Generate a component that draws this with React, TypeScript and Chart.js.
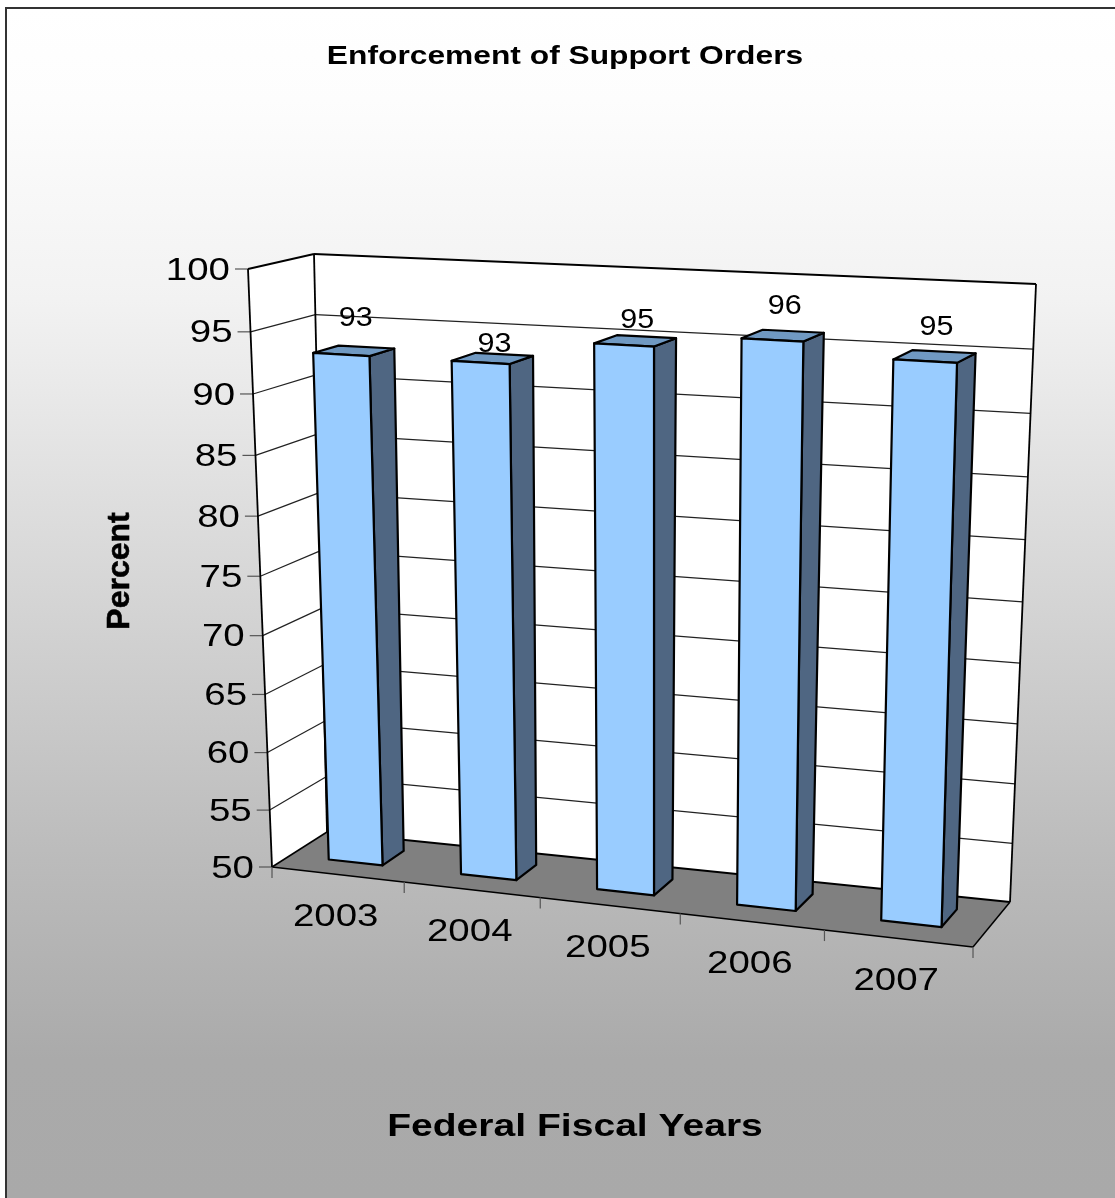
import React, { useEffect, useRef } from "react";
import { Chart, registerables } from "chart.js";

Chart.register(...registerables);

const fiscalYears = ["2003", "2004", "2005", "2006", "2007"];
const percentEnforced = [93, 93, 95, 96, 95];
const axisMin = 50;
const axisMax = 100;
const axisStep = 5;

const chartTitle = "Enforcement of Support Orders";
const xAxisTitle = "Federal Fiscal Years";
const yAxisTitle = "Percent";

// Corners of the projected box, ordered: lower-left, lower-right, upper-right, upper-left.
type Pt = [number, number];
const frontPlane: Pt[] = [[272, 867], [973, 947], [990, 306], [248, 269]];
const backPlane: Pt[] = [[327, 832], [1010, 902], [1036, 284], [314, 254]];

// Extent of the bars along the depth of the floor (0 = front edge, 1 = back wall).
const barDepthNear = 0.335;
const barDepthFar = 0.735;

// Extra lift of each value label above its bar.
const labelLift = [32, 14, 20, 29, 29];

const FONT = '"Liberation Sans", Arial, sans-serif';

// Unit-square to quadrilateral perspective map.
function squareToQuad(q: Pt[]) {
  const [[x0, y0], [x1, y1], [x2, y2], [x3, y3]] = q;
  const dx1 = x1 - x2, dx2 = x3 - x2, sx = x0 - x1 + x2 - x3;
  const dy1 = y1 - y2, dy2 = y3 - y2, sy = y0 - y1 + y2 - y3;
  const den = dx1 * dy2 - dx2 * dy1;
  const g = (sx * dy2 - dx2 * sy) / den;
  const h = (dx1 * sy - sx * dy1) / den;
  const a = x1 - x0 + g * x1, b = x3 - x0 + h * x3, c = x0;
  const d = y1 - y0 + g * y1, e = y3 - y0 + h * y3, f = y0;
  return (u: number, v: number): Pt => {
    const s = g * u + h * v + 1;
    return [(a * u + b * v + c) / s, (d * u + e * v + f) / s];
  };
}

const mapFront = squareToQuad(frontPlane);
const mapBack = squareToQuad(backPlane);

function project(u: number, v: number, w: number): Pt {
  const p = mapFront(u, v);
  const q = mapBack(u, v);
  return [p[0] + (q[0] - p[0]) * w, p[1] + (q[1] - p[1]) * w];
}

function polygon(ctx: CanvasRenderingContext2D, pts: Pt[], fill?: string, stroke?: string, lw = 2.2) {
  ctx.beginPath();
  pts.forEach((p, i) => (i ? ctx.lineTo(p[0], p[1]) : ctx.moveTo(p[0], p[1])));
  ctx.closePath();
  if (fill) {
    ctx.fillStyle = fill;
    ctx.fill();
  }
  if (stroke) {
    ctx.strokeStyle = stroke;
    ctx.lineWidth = lw;
    ctx.lineJoin = "round";
    ctx.stroke();
  }
}

function segment(ctx: CanvasRenderingContext2D, a: Pt, b: Pt, color: string, lw: number) {
  ctx.beginPath();
  ctx.moveTo(a[0], a[1]);
  ctx.lineTo(b[0], b[1]);
  ctx.strokeStyle = color;
  ctx.lineWidth = lw;
  ctx.stroke();
}

// Text widened along x about its anchor.
function wideText(
  ctx: CanvasRenderingContext2D,
  text: string,
  x: number,
  y: number,
  font: string,
  stretch: number,
  align: CanvasTextAlign = "center",
) {
  ctx.save();
  ctx.translate(x, y);
  ctx.scale(stretch, 1);
  ctx.font = font;
  ctx.textAlign = align;
  ctx.textBaseline = "middle";
  ctx.fillStyle = "#000000";
  ctx.fillText(text, 0, 0);
  ctx.restore();
}

// Flat scale pixels to normalised box coordinates.
function normaliser(chart: any) {
  const area = chart.chartArea;
  return {
    nx: (px: number) => (px - area.left) / area.width,
    ny: (py: number) => (area.bottom - py) / area.height,
  };
}

const scene3d = {
  id: "scene3d",
  beforeDraw(chart: any) {
    const { ctx, width, height } = chart;
    ctx.save();
    ctx.fillStyle = "#ffffff";
    ctx.fillRect(0, 0, width, height);
    const grad = ctx.createLinearGradient(0, 8, 0, height);
    const stop = (y: number) => (y - 8) / (height - 8);
    grad.addColorStop(0, "#ffffff");
    grad.addColorStop(stop(100), "#fdfdfd");
    grad.addColorStop(stop(300), "#f2f2f2");
    grad.addColorStop(stop(860), "#bbbbbb");
    grad.addColorStop(stop(1060), "#aaaaaa");
    grad.addColorStop(1, "#a9a9a9");
    ctx.fillStyle = grad;
    ctx.fillRect(6, 8, width, height);
    ctx.strokeStyle = "#333333";
    ctx.lineWidth = 2;
    ctx.beginPath();
    ctx.moveTo(6, height);
    ctx.lineTo(6, 8);
    ctx.lineTo(width, 8);
    ctx.stroke();
    wideText(ctx, chartTitle, 565, 57, `bold 25px ${FONT}`, 1.27);
    ctx.restore();
  },
  beforeDatasetsDraw(chart: any) {
    const { ctx, scales } = chart;
    const { nx, ny } = normaliser(chart);
    const xs = scales.x;
    const ys = scales.y;
    ctx.save();

    // Side wall, back wall and floor.
    polygon(ctx, [project(0, 0, 0), project(0, 0, 1), project(0, 1, 1), project(0, 1, 0)], "#ffffff");
    polygon(ctx, [project(0, 0, 1), project(1, 0, 1), project(1, 1, 1), project(0, 1, 1)], "#ffffff");
    polygon(ctx, [project(0, 0, 0), project(1, 0, 0), project(1, 0, 1), project(0, 0, 1)], "#808080");

    // Horizontal gridlines and value ticks.
    for (const tick of ys.ticks) {
      const v = ny(ys.getPixelForValue(tick.value));
      const a = project(0, v, 0);
      const b = project(0, v, 1);
      const c = project(1, v, 1);
      if (tick.value !== axisMin && tick.value !== axisMax) {
        segment(ctx, a, b, "#222222", 1.2);
        segment(ctx, b, c, "#222222", 1.2);
      }
      segment(ctx, [a[0] - 13, a[1]], a, "#555555", 1.2);
      wideText(ctx, String(tick.value), a[0] - 18, a[1] + 2, `31px ${FONT}`, 1.24, "right");
    }

    // Box outline.
    const edge = "#000000";
    segment(ctx, project(0, 1, 0), project(0, 0, 0), edge, 1.8);
    segment(ctx, project(0, 1, 0), project(0, 1, 1), edge, 1.8);
    segment(ctx, project(0, 1, 1), project(1, 1, 1), edge, 1.8);
    segment(ctx, project(0, 1, 1), project(0, 0, 1), edge, 1.8);
    segment(ctx, project(1, 1, 1), project(1, 0, 1), edge, 1.8);
    segment(ctx, project(0, 0, 1), project(1, 0, 1), edge, 1.8);
    segment(ctx, project(0, 0, 0), project(0, 0, 1), edge, 1.5);
    segment(ctx, project(1, 0, 0), project(1, 0, 1), edge, 1.5);
    segment(ctx, project(0, 0, 0), project(1, 0, 0), edge, 1.5);

    // Category ticks and year labels along the front edge of the floor.
    fiscalYears.forEach((year, i) => {
      const centre = project(nx(xs.getPixelForValue(i)), 0, 0);
      wideText(ctx, year, centre[0] - 2, centre[1] + 43, `31px ${FONT}`, 1.24);
    });
    for (let i = 0; i <= fiscalYears.length; i++) {
      const p = project(nx(xs.getPixelForValue(i - 0.5)), 0, 0);
      segment(ctx, p, [p[0], p[1] + 11], "#555555", 1.2);
    }

    // Axis titles.
    wideText(ctx, xAxisTitle, 575, 1127, `bold 31px ${FONT}`, 1.26);
    ctx.translate(120, 571);
    ctx.rotate(-Math.PI / 2);
    ctx.font = `bold 32px ${FONT}`;
    ctx.textAlign = "center";
    ctx.textBaseline = "middle";
    ctx.fillStyle = "#000000";
    ctx.strokeStyle = "#000000";
    ctx.lineWidth = 0.6;
    ctx.fillText(yAxisTitle, 0, 0);
    ctx.strokeText(yAxisTitle, 0, 0);
    ctx.restore();
  },
  beforeDatasetDraw(chart: any, args: any) {
    const { ctx } = chart;
    const { nx, ny } = normaliser(chart);
    const meta = chart.getDatasetMeta(args.index);
    ctx.save();
    meta.data.forEach((bar: any) => {
      const { x, y, base, width } = bar.getProps(["x", "y", "base", "width"], true);
      const u0 = nx(x - width / 2);
      const u1 = nx(x + width / 2);
      const vb = ny(base);
      const vt = ny(y);
      const n = barDepthNear;
      const f = barDepthFar;
      polygon(ctx, [project(u1, vb, n), project(u1, vb, f), project(u1, vt, f), project(u1, vt, n)], "#4f6682", "#000000");
      polygon(ctx, [project(u0, vt, n), project(u1, vt, n), project(u1, vt, f), project(u0, vt, f)], "#7099c2", "#000000");
      polygon(ctx, [project(u0, vb, n), project(u1, vb, n), project(u1, vt, n), project(u0, vt, n)], "#99ccff", "#000000");
    });
    ctx.restore();
    return false;
  },
  afterDatasetsDraw(chart: any) {
    const { ctx } = chart;
    const { nx, ny } = normaliser(chart);
    const meta = chart.getDatasetMeta(0);
    meta.data.forEach((bar: any, i: number) => {
      const { x, y } = bar.getProps(["x", "y"], true);
      const p = project(nx(x), ny(y), (barDepthNear + barDepthFar) / 2);
      wideText(ctx, String(percentEnforced[i]), p[0] + 2, p[1] - labelLift[i], `27px ${FONT}`, 1.13);
    });
  },
};

export default function App() {
  const ref = useRef<HTMLCanvasElement | null>(null);
  useEffect(() => {
    const chart = new Chart(ref.current as HTMLCanvasElement, {
      type: "bar",
      data: {
        labels: fiscalYears,
        datasets: [{ data: percentEnforced, base: axisMin, categoryPercentage: 1, barPercentage: 0.41 }],
      },
      options: {
        responsive: false,
        animation: false,
        scales: {
          x: { display: false },
          y: { display: false, min: axisMin, max: axisMax, ticks: { stepSize: axisStep } },
        },
        plugins: {
          legend: { display: false },
          tooltip: { enabled: false },
          title: { display: false },
        },
      },
      plugins: [scene3d],
    } as any);
    return () => chart.destroy();
  }, []);
  return (
    <canvas
      ref={ref}
      width={1115}
      height={1198}
      style={{ position: "absolute", left: 0, top: 0, display: "block" }}
    />
  );
}
